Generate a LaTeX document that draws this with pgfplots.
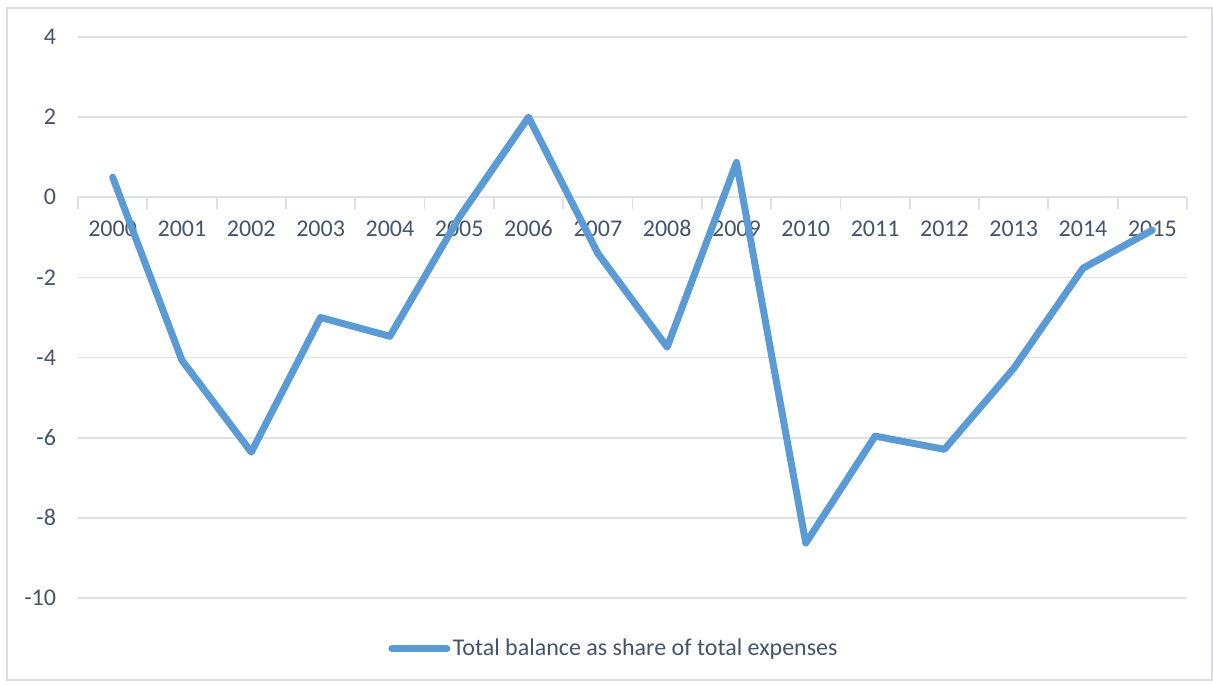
\documentclass[border=0pt]{standalone}
\usepackage{pgfplots}
\pgfplotsset{compat=1.18}
\usepackage{fontspec}
\setmainfont{Carlito}
\definecolor{linecol}{HTML}{5B9BD5}
\definecolor{gridcol}{HTML}{DDE1E6}
\definecolor{txtcol}{HTML}{44546A}
\definecolor{bordercol}{HTML}{D9DDE2}
\begin{document}
\begin{tikzpicture}
\useasboundingbox (0,0) rectangle (606.5pt,342pt);
\draw[bordercol, line width=0.6pt] (3.5pt,2pt) rectangle (606pt,338pt);
\begin{axis}[
  at={(39pt,43pt)}, anchor=south west,
  scale only axis, width=554.5pt, height=280.5pt,
  xmin=-0.5, xmax=15.5, ymin=-10, ymax=4,
  axis x line=middle, axis y line=left,
  x axis line style={draw=gridcol, line width=0.9pt, -},
  y axis line style={draw=none},
  xtick={0,...,15},
  xticklabels={2000,2001,2002,2003,2004,2005,2006,2007,2008,2009,2010,2011,2012,2013,2014,2015},
  major tick length=0pt,
  ytick={-10,-8,...,4},
  ymajorgrids, grid style={draw=gridcol, line width=0.9pt},
  extra x ticks={-0.5,0.5,...,15.5},
  extra x tick labels={},
  extra x tick style={major tick length=6pt, tick align=outside, tick style={draw=gridcol, line width=0.9pt}},
  tick label style={font=\fontsize{12}{14}\selectfont, text=txtcol},
  xticklabel style={anchor=base, yshift=-19.5pt},
  yticklabel style={xshift=-7.5pt},
  /pgf/number format/assume math mode=true,
  legend style={at={(0.4835,-0.0909)}, anchor=center, draw=none, fill=none,
    font=\fontsize{12}{14}\selectfont, text=txtcol, nodes={inner sep=1.2pt}},
  legend image code/.code={\draw[#1, line cap=round] (0pt,0pt) -- (27.5pt,0pt);},
  clip=false,
]
\addplot[linecol, line width=3.5pt, line join=round, line cap=round] coordinates {
 (0,0.5) (1,-4.07) (2,-6.36) (3,-3.0) (4,-3.47) (5,-0.5) (6,2.0) (7,-1.4)
 (8,-3.74) (9,0.87) (10,-8.63) (11,-5.96) (12,-6.29) (13,-4.27) (14,-1.77) (15,-0.82)
};
\addlegendentry{Total balance as share of total expenses}
\end{axis}
\end{tikzpicture}
\end{document}
